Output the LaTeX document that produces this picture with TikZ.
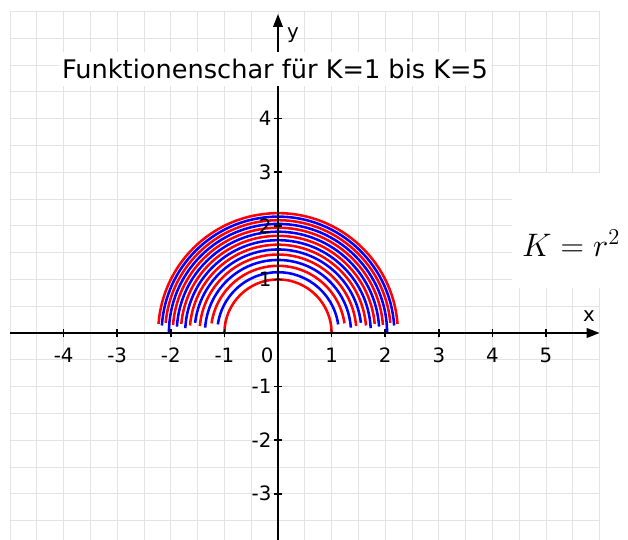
\documentclass[tikz,border=0pt]{standalone}
\usepackage{fontspec}
\setmainfont{DejaVu Sans}
\usetikzlibrary{arrows.meta}
\begin{document}
\begin{tikzpicture}[x=1cm,y=1cm,
  gridline/.style={draw=black!11, line width=0.5pt},
  axisline/.style={line width=0.85pt, -{Triangle[length=2.4mm,width=1.8mm]}},
  tickmark/.style={line width=0.8pt},
  ticklbl/.style={font=\fontsize{10.5}{12}\selectfont, inner sep=1pt},
  arcline/.style={line width=1.35pt}]
\useasboundingbox (-5.187,-3.862) rectangle (6.53,6.213);
\fill[white] (-5.187,-3.862) rectangle (6.53,6.213);
% grid
\draw[gridline, step=0.5] (-5,-3.862) grid (6,6);
% white box behind formula
\fill[white] (4.37,0.84) rectangle (6.6,2.985);
% family of semicircles K = r^2
\foreach \i/\h/\c in {0/0/red, 1/0.16/blue, 2/0.18/red, 3/0.10/blue, 4/0.13/red,
  5/0.19/blue, 6/0.14/red, 7/0.09/blue, 8/0.17/red, 9/0.12/blue, 10/0.15/red,
  11/0/blue, 12/0.19/red, 13/0.14/blue, 14/0.17/red} {
  \pgfmathsetmacro\r{sqrt(1+4*\i/14)}
  \pgfmathsetmacro\a{asin(\h/\r)}
  \draw[arcline, draw=\c] ({\r*cos(\a)},\h) arc[start angle=\a, end angle=180-\a, radius=\r];
}
% axes
\coordinate (xs) at (-5,0);
\coordinate (xe) at (6,0);
\coordinate (ys) at (0,-3.862);
\coordinate (ye) at (0,5.95);
\draw[axisline] (xs) -- (xe);
\draw[axisline] (ys) -- (ye);
% ticks and labels
\foreach \x in {-4,-3,-2,-1,1,2,3,4,5} {
  \draw[tickmark] (\x,-0.075) -- (\x,0.075);
  \node[ticklbl] (xl\x) at (\x,-0.42) {\x};
}
\foreach \y in {-3,-2,-1,1,2,3,4} {
  \draw[tickmark] (-0.075,\y) -- (0.075,\y);
  \node[ticklbl, anchor=east] (yl\y) at (-0.08,\y) {\y};
}
\node[ticklbl] (zero) at (-0.2,-0.42) {0};
\node[ticklbl] (xlab) at (5.8,0.32) {x};
\node[ticklbl] (ylab) at (0.28,5.56) {y};
% title
\node[fill=white, inner xsep=0.6mm, minimum height=0.63cm, font=\fontsize{13.6}{16}\selectfont] (title) at (-0.056,4.93) {Funktionenschar für K=1 bis K=5};
% formula
\node[font=\fontsize{17}{20}\selectfont] (formula) at (5.47,1.68) {$K=r^2$};
\end{tikzpicture}
\end{document}
